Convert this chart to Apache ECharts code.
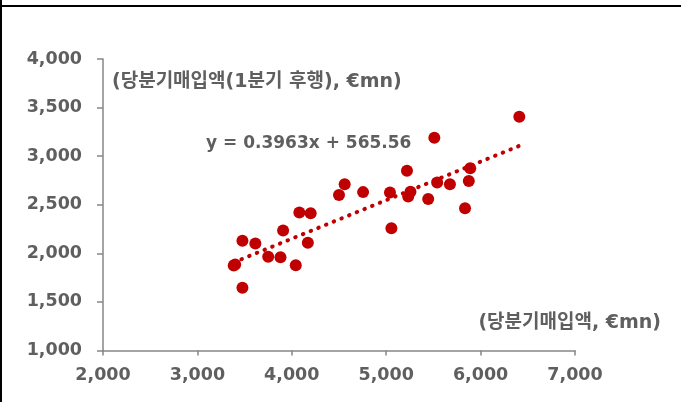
<!DOCTYPE html>
<html><head><meta charset="utf-8">
<script src="https://cdn.jsdelivr.net/npm/echarts@6/dist/echarts.min.js"></script>
<style>html,body{margin:0;padding:0;background:#fff}#c{width:681px;height:402px}</style>
</head><body><div id="c"></div>
<script>
const xValues = [6410,5510,5220,5890,5875,5540,5675,5257,5233,5040,4755,4560,4500,5445,5835,5055,4080,4200,3908,4170,3477,3614,3750,3880,4042,3385,3400,3477];
const yValues = [3405,3190,2850,2875,2745,2730,2710,2635,2585,2625,2630,2710,2600,2560,2465,2258,2420,2413,2234,2110,2130,2100,1966,1960,1878,1875,1885,1647];
const xTicks = [2000,3000,4000,5000,6000,7000];
const yTicks = [1000,1500,2000,2500,3000,3500,4000];
const slope = 0.3963, intercept = 565.56;
const eqLabel = 'y = 0.3963x + 565.56';
const yName = '(당분기매입액(1분기 후행), €mn)';
const xName = '(당분기매입액, €mn)';

const pts = xValues.map((x,i)=>[x,yValues[i]]);
const xmin = Math.min(...xValues), xmax = Math.max(...xValues);
const trend = [[xmin, slope*xmin+intercept],[xmax, slope*xmax+intercept]];
const fmt = v => v.toLocaleString('en-US');
const FONT = '"DejaVu Sans", "Noto Sans CJK KR", sans-serif';
const txtColor = '#5f5f5f';
const axisColor = '#868686';

const chart = echarts.init(document.getElementById('c'), null, {renderer:'canvas'});
chart.setOption({
  animation:false,
  grid:{left:103, right:106, top:59, bottom:51.5, containLabel:false},
  xAxis:{type:'value', min:xTicks[0], max:xTicks[xTicks.length-1], interval:1000,
    axisLine:{show:true, lineStyle:{color:axisColor, width:1.5}},
    axisTick:{show:true, length:5, lineStyle:{color:axisColor, width:1.5}},
    splitLine:{show:false},
    axisLabel:{formatter:fmt, color:txtColor, fontSize:17.5, fontFamily:FONT, fontWeight:'bold', margin:16}},
  yAxis:{type:'value', min:yTicks[0], max:yTicks[yTicks.length-1], interval:500,
    axisLine:{show:true, lineStyle:{color:axisColor, width:1.5}},
    axisTick:{show:true, length:6, lineStyle:{color:axisColor, width:1.5}},
    splitLine:{show:false},
    axisLabel:{formatter:fmt, color:txtColor, fontSize:17.5, fontFamily:FONT, fontWeight:'bold', margin:21}},
  series:[
    {type:'scatter', data:pts, symbolSize:12, itemStyle:{color:'#C00000', opacity:1}, z:2},
    {type:'line', data:trend, symbol:'none', z:3,
      lineStyle:{color:'#C00000', width:4, type:[0.5,7.8], cap:'round'}}
  ],
  graphic:[
    {type:'rect', shape:{x:0, y:0, width:2, height:402}, style:{fill:'#000'}},
    {type:'rect', shape:{x:0, y:5, width:681, height:2}, style:{fill:'#000'}},
    {type:'text', left:112, top:73, style:{text:yName, fill:txtColor, font:'bold 19px '+FONT}},
    {type:'text', left:206, top:135, style:{text:eqLabel, fill:txtColor, font:'bold 17px '+FONT}},
    {type:'text', right:20, top:314, style:{text:xName, fill:txtColor, font:'bold 19px '+FONT}}
  ]
});
</script></body></html>
